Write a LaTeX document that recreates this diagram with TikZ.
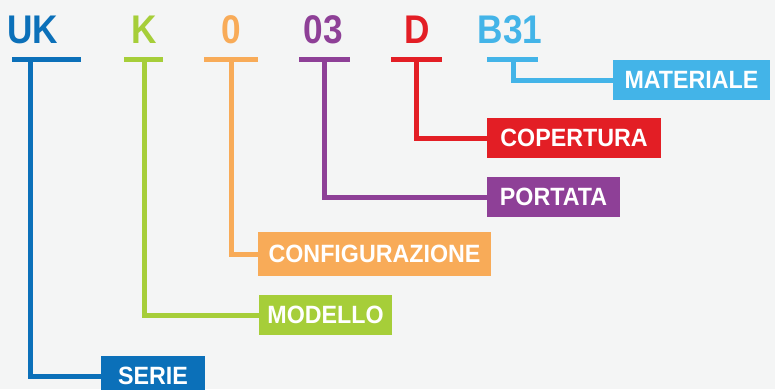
\documentclass[tikz,border=0pt]{standalone}
\usepackage{fontspec}
\setmainfont{Liberation Sans}[FakeStretch=0.88]
\newfontfamily\tagfont{Liberation Sans}[FakeStretch=0.93]
\definecolor{bgc}{HTML}{F4F5F5}
\definecolor{cblue}{HTML}{0B70B9}
\definecolor{cgreen}{HTML}{A6CE39}
\definecolor{corange}{HTML}{F8AB58}
\definecolor{cpurple}{HTML}{8E4097}
\definecolor{cred}{HTML}{E31E25}
\definecolor{clight}{HTML}{43B4E8}
\tikzset{
  code/.style={anchor=base, inner sep=0pt, font=\fontsize{40}{44}\selectfont\bfseries},
  bar/.style={line width=5pt},
  conn/.style={line width=5pt, line join=miter},
  tag/.style={inner sep=0pt, minimum height=40pt, text=white, text height=17.9pt, text depth=0pt,
    font=\tagfont\fontsize{25}{30}\selectfont\bfseries}
}
\begin{document}
\begin{tikzpicture}[x=1pt,y=-1pt]
\useasboundingbox (0,0) rectangle (775,389);
\fill[bgc] (0,0) rectangle (775,389);

% codes
\node[code, text=cblue]   (uk)  at (33,43)  {UK};
\node[code, text=cgreen]  (k)   at (144,43) {K};
\node[code, text=corange] (z)   at (231.5,43) {0};
\node[code, text=cpurple] (p)   at (323.5,43) {03};
\node[code, text=cred]    (d)   at (417,43) {D};
\node[code, text=clight]  (b)   at (510,43) {B31};

% bars
\coordinate (ukL) at (12,59.5);   \coordinate (ukR) at (81,59.5);
\coordinate (kL) at (124,59.5);   \coordinate (kR) at (163,59.5);
\coordinate (zL) at (204,59.5);   \coordinate (zR) at (258,59.5);
\coordinate (pL) at (299,59.5);   \coordinate (pR) at (350,59.5);
\coordinate (dL) at (391,59.5);   \coordinate (dR) at (442,59.5);
\coordinate (bL) at (487,59.5);   \coordinate (bR) at (538,59.5);
\draw[bar, cblue]   (ukL) -- (ukR);
\draw[bar, cgreen]  (kL) -- (kR);
\draw[bar, corange] (zL) -- (zR);
\draw[bar, cpurple] (pL) -- (pR);
\draw[bar, cred]    (dL) -- (dR);
\draw[bar, clight]  (bL) -- (bR);

% tags
\node[tag, fill=clight,  minimum width=157pt] (mat)  at (691.5,80)  {MATERIALE};
\node[tag, fill=cred,    minimum width=174pt] (cop)  at (574,138)   {COPERTURA};
\node[tag, fill=cpurple, minimum width=133pt] (por)  at (553.5,197) {PORTATA};
\node[tag, fill=corange, minimum width=233pt, minimum height=44pt] (conf) at (374.5,254) {CONFIGURAZIONE};
\node[tag, fill=cgreen,  minimum width=133pt] (mod)  at (325.5,315) {MODELLO};
\node[tag, fill=cblue,   minimum width=104pt] (ser)  at (153,376)   {SERIE};

% connector start points
\coordinate (ukT) at (30.5,59.5);
\coordinate (kT) at (144,59.5);
\coordinate (zT) at (231,59.5);
\coordinate (pT) at (324,59.5);
\coordinate (dT) at (416,59.5);
\coordinate (bT) at (513,59.5);

\draw[conn, cblue]   (ukT) |- (ser.west);
\draw[conn, cgreen]  (kT)  |- (mod.west);
\draw[conn, corange] (zT)  |- (conf.west);
\draw[conn, cpurple] (pT)  |- (por.west);
\draw[conn, cred]    (dT)  |- (cop.west);
\draw[conn, clight]  (bT)  |- (mat.west);
\end{tikzpicture}
\end{document}
